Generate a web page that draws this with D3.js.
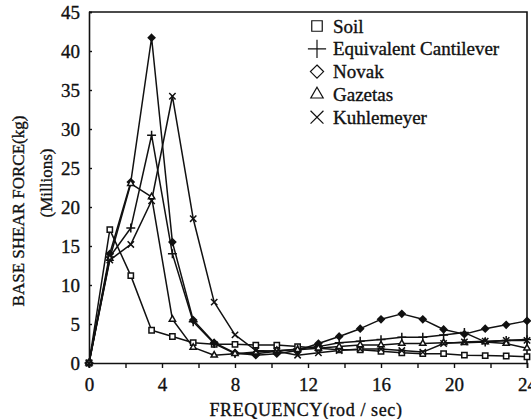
<!DOCTYPE html>
<html>
<head>
<meta charset="utf-8">
<script src="https://cdn.jsdelivr.net/npm/d3@7"></script>
<style>
    body { margin: 0; background: #fff; }
    svg text { font-family: "Liberation Serif", "Times New Roman", serif; fill: #111; stroke: #111; stroke-width: 0.35px; }
</style>
</head>
<body>
<div id="chart"></div>
<script>
// frequencies (rad/sec) where the response was computed
const freq = [0, 1.14, 2.29, 3.43, 4.57, 5.71, 6.86, 8.0, 9.14, 10.29, 11.43, 12.57, 13.71, 14.86, 16.0, 17.14, 18.29, 19.43, 20.57, 21.71, 22.86, 24.0]

// base shear force, millions of kg
const soil = [0, 17.1, 11.2, 4.2, 3.4, 2.6, 2.4, 2.4, 2.3, 2.3, 2.1, 1.9, 1.7, 1.7, 1.5, 1.3, 1.2, 1.2, 1.0, 0.95, 0.9, 0.8]
const cantilever = [0, 13.6, 17.3, 29.2, 14.0, 5.3, 2.5, 1.2, 1.2, 1.5, 1.8, 2.1, 2.6, 2.8, 3.0, 3.3, 3.3, 3.6, 3.9, 2.7, 2.9, 3.0]
const novak = [0, 14.0, 23.2, 41.7, 15.5, 5.5, 2.6, 1.3, 1.0, 1.2, 1.6, 2.5, 3.4, 4.4, 5.6, 6.3, 5.6, 4.3, 3.7, 4.4, 4.9, 5.4]
const gazetas = [0, 13.4, 23.0, 21.3, 5.6, 2.0, 1.0, 1.2, 1.4, 1.6, 1.7, 1.9, 2.1, 2.3, 2.3, 2.5, 2.5, 2.6, 2.6, 2.7, 2.5, 1.9]
const kuhlemeyer = [0, 13.2, 15.2, 20.8, 34.2, 18.5, 7.8, 3.6, 1.6, 1.5, 1.0, 1.3, 1.6, 1.8, 1.8, 1.6, 1.4, 2.5, 2.7, 2.8, 2.9, 2.9]

const seriesNames = ['Soil', 'Equivalent Cantilever', 'Novak', 'Gazetas', 'Kuhlemeyer']
const xTicks = [0, 2, 4, 6, 8, 10, 12, 14, 16, 18, 20, 22, 24]
const xLabels = [0, 4, 8, 12, 16, 20, 24]
const yTicks = [0, 5, 10, 15, 20, 25, 30, 35, 40, 45]

const W = 531, H = 419
const margin = { left: 89, right: 4, top: 12, bottom: 56 }

const svg = d3.select('#chart')
    .append('svg')
    .attr('width', W)
    .attr('height', H)

const xScale = d3.scaleLinear().domain([0, 24]).range([margin.left, W - margin.right])
const yScale = d3.scaleLinear().domain([0, 45]).range([H - margin.bottom, margin.top])

//frame (top and right edges)
svg.append('path')
    .attr('d', `M${xScale(0)},${yScale(45)}H${xScale(24)}V${yScale(0)}`)
    .attr('fill', 'none')
    .attr('stroke', '#111')
    .attr('stroke-width', 1.6)

//x axis, ticks pointing down
const xaxis = d3.axisBottom(xScale)
    .tickValues(xTicks)
    .tickSize(5)
    .tickFormat(d => xLabels.includes(d) ? d : '')
const gx = svg.append('g')
    .attr('transform', `translate(0,${yScale(0)})`)
    .call(xaxis)
gx.select('.domain').attr('stroke-width', 1.6).attr('stroke', '#111')
gx.selectAll('.tick line').attr('stroke-width', 1.4).attr('stroke', '#111')
gx.selectAll('.tick text')
    .attr('dy', '1.05em')
    .style('font-size', '19px')

//y axis, small ticks pointing inward
const yaxis = d3.axisLeft(yScale)
    .tickValues(yTicks)
    .tickSize(-3)
    .tickPadding(9)
const gy = svg.append('g')
    .attr('transform', `translate(${xScale(0)},0)`)
    .call(yaxis)
gy.select('.domain').attr('stroke-width', 1.6).attr('stroke', '#111')
gy.selectAll('.tick line').attr('stroke-width', 1.4).attr('stroke', '#111')
gy.selectAll('.tick text').style('font-size', '19px')

//lines
const allSeries = [soil, cantilever, novak, gazetas, kuhlemeyer]
const line = d3.line()
    .x((d, i) => xScale(freq[i]))
    .y(d => yScale(d))

allSeries.forEach(s => {
    svg.append('path')
        .datum(s)
        .attr('fill', 'none')
        .attr('stroke', '#111')
        .attr('stroke-width', 1.5)
        .attr('stroke-linejoin', 'round')
        .attr('d', line)
})

//marker shapes for every series
const symbols = [
    { type: d3.symbolSquare, fill: '#fff' },
    { type: d3.symbolCross2 || d3.symbolPlus, fill: 'none' },
    { type: d3.symbolDiamond2 || d3.symbolDiamond, fill: '#111' },
    { type: d3.symbolTriangle2 || d3.symbolTriangle, fill: '#fff' },
    { type: d3.symbolX || d3.symbolCross2, fill: 'none' }
]

allSeries.forEach((s, k) => {
    const sym = d3.symbol().type(symbols[k].type).size(28)
    svg.append('g')
        .selectAll('path')
        .data(s)
        .join('path')
        .attr('transform', (d, i) => `translate(${xScale(freq[i])},${yScale(d)})`)
        .attr('d', sym)
        .attr('fill', symbols[k].fill)
        .attr('stroke', '#111')
        .attr('stroke-width', 1.5)
})

//legend
const legend = svg.append('g').attr('transform', 'translate(317,26)')
seriesNames.forEach((name, k) => {
    const row = legend.append('g').attr('transform', `translate(0,${k * 22.8})`)
    row.append('path')
        .attr('d', d3.symbol().type(symbols[k].type).size(110))
        .attr('fill', symbols[k].fill == 'none' ? 'none' : '#fff')
        .attr('stroke', '#111')
        .attr('stroke-width', 1.2)
    row.append('text')
        .attr('x', 16)
        .attr('dy', '0.35em')
        .style('font-size', '19px')
        .text(name)
})

//axis titles
svg.append('text')
    .attr('transform', `translate(24,${211}) rotate(-90)`)
    .attr('text-anchor', 'middle')
    .style('font-size', '17px')
    .text('BASE SHEAR FORCE(kg)')

svg.append('text')
    .attr('transform', `translate(52,${183}) rotate(-90)`)
    .attr('text-anchor', 'middle')
    .style('font-size', '17px')
    .text('(Millions)')

svg.append('text')
    .attr('x', 306)
    .attr('y', 416)
    .attr('text-anchor', 'middle')
    .style('font-size', '18px')
    .style('letter-spacing', '0.6px')
    .text('FREQUENCY(rod / sec)')
</script>
</body>
</html>
